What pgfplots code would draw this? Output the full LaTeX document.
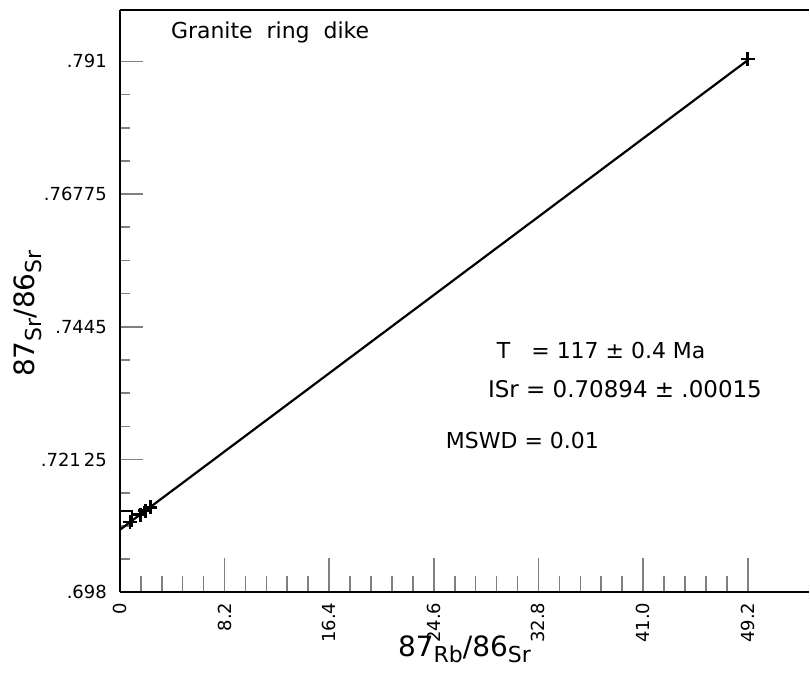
\documentclass[border=0pt]{standalone}
\usepackage{fontspec}
\setmainfont{DejaVu Sans}
\usepackage{pgfplots}
\pgfplotsset{compat=1.18}
\newcommand{\rl}[1]{\rotatebox{90}{#1}}
\begin{document}
\begin{tikzpicture}
\begin{axis}[
  scale only axis,
  width=345pt, height=291.5pt,
  xmin=0, xmax=54, ymin=0.698, ymax=0.8,
  axis x line=box, axis y line=left,
  axis line style={line width=1pt, -},
  xtick pos=bottom, ytick pos=left,
  tick align=inside,
  xtick={0,8.2,16.4,24.6,32.8,41.0,49.2},
  xticklabels={},
  minor x tick num=4,
  ytick={0.698,0.72125,0.7445,0.76775,0.791},
  yticklabels={.698,.721\,25,.7445,.76775,.791},
  minor y tick num=3,
  major x tick style={/pgfplots/major tick length=17pt, line width=0.8pt},
  minor x tick style={/pgfplots/minor tick length=8pt, line width=0.8pt},
  major y tick style={/pgfplots/major tick length=11.5pt, line width=0.8pt},
  minor y tick style={/pgfplots/minor tick length=5pt, line width=0.8pt},
  yticklabel style={font=\fontsize{9}{10}\selectfont, xshift=-3pt},
  xlabel={\fontsize{14}{14}\selectfont 87\raisebox{-0.45ex}{\fontsize{11}{11}\selectfont Rb}/86\raisebox{-0.45ex}{\fontsize{11}{11}\selectfont Sr}},
  ylabel={\fontsize{14}{14}\selectfont 87\raisebox{-0.45ex}{\fontsize{11}{11}\selectfont Sr}/86\raisebox{-0.45ex}{\fontsize{11}{11}\selectfont Sr}},
  xlabel style={at={(axis description cs:0.5,-0.098)}, anchor=center},
  ylabel style={at={(axis description cs:-0.1333,0.4786)}, anchor=center, rotate=0},
  clip=false,
]
\path (rel axis cs:-0.1739,-0.1424) rectangle (rel axis cs:1,1.01715);
\addplot[black, line width=1.1pt] coordinates {(0,0.70894) (49.2,0.7912)};
\addplot[black, line width=0.8pt] coordinates {(0,0.7122) (0.94,0.7122) (0.94,0.7094)};
\addplot[only marks, mark=+, mark size=3.5pt, black, mark options={line width=1.3pt}] coordinates {
  (0.78,0.7103) (1.6,0.7116) (2.0,0.7123) (2.4,0.7129) (49.2,0.7914)};
\foreach \v/\t in {0/0,8.2/8.2,16.4/16.4,24.6/24.6,32.8/32.8,41/41.0,49.2/49.2}{
  \edef\temp{\noexpand\node[anchor=north, inner sep=0pt, yshift=-5pt, font=\noexpand\fontsize{9}{10}\noexpand\selectfont] at (axis cs:\v,0.698) {\noexpand\rl{\t}};}
  \temp
}
\node[anchor=west, font=\fontsize{11}{13}\selectfont] at (rel axis cs:0.537,0.415) {T~~ = 117 ± 0.4 Ma};
\node[anchor=west, font=\fontsize{11.5}{13}\selectfont] at (rel axis cs:0.524,0.348) {ISr = 0.70894 ± .00015};
\node[anchor=west, font=\fontsize{11}{13}\selectfont] at (rel axis cs:0.463,0.261) {MSWD = 0.01};
\node[anchor=west, font=\fontsize{11}{13}\selectfont] at (rel axis cs:0.064,0.962) {Granite~~ring~~dike};
\end{axis}
\end{tikzpicture}
\end{document}
